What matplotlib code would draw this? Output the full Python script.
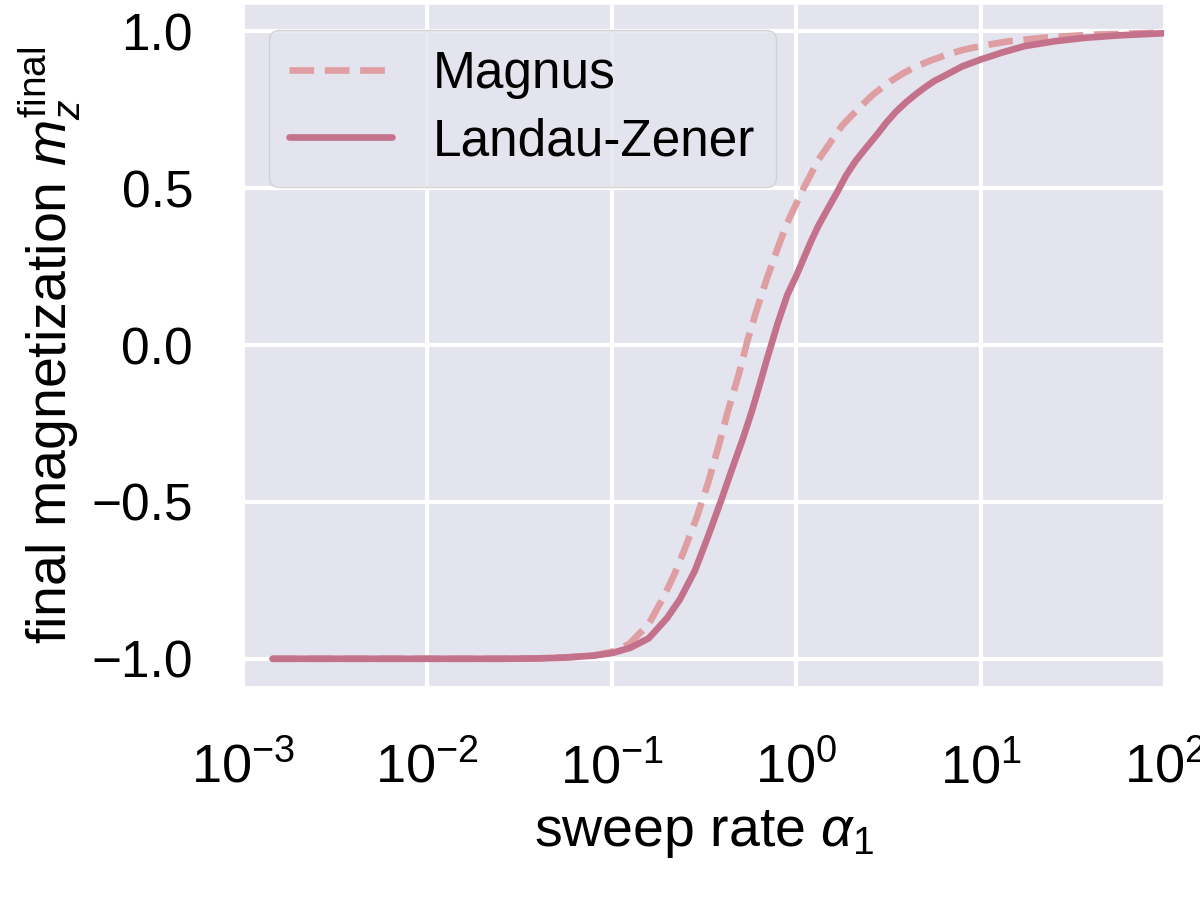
import matplotlib
matplotlib.use("Agg")
import matplotlib.pyplot as plt
import numpy as np
import seaborn as sns

# values (log10 of sweep rate, final m_z)
LZ_LOGA = [-2.84, -2.5, -2.0, -1.6, -1.4, -1.25, -1.1, -1.0, -0.9, -0.8, -0.7,
           -0.63, -0.55, -0.478, -0.41, -0.349, -0.29, -0.24, -0.2, -0.156,
           -0.1, -0.048, 0.0, 0.04, 0.08, 0.12, 0.167, 0.22, 0.27, 0.32,
           0.381, 0.44, 0.49, 0.54, 0.596, 0.65, 0.7, 0.75, 0.81, 0.9, 1.0,
           1.12, 1.24, 1.4, 1.56, 1.75, 2.0]
LZ_MZ = [-1.0, -1.0, -1.0, -1.0, -0.999, -0.996, -0.99, -0.982, -0.965, -0.935,
         -0.87, -0.81, -0.72, -0.61, -0.5, -0.397, -0.3, -0.21, -0.13, -0.04,
         0.07, 0.16, 0.22, 0.275, 0.33, 0.38, 0.43, 0.485, 0.54, 0.585,
         0.63, 0.672, 0.71, 0.743, 0.774, 0.8, 0.822, 0.842, 0.86, 0.888,
         0.91, 0.933, 0.953, 0.968, 0.979, 0.987, 0.994]

MAG_LOGA = [-2.84, -2.5, -2.0, -1.6, -1.4, -1.25, -1.1, -1.0, -0.908, -0.8,
            -0.714, -0.66, -0.607, -0.54, -0.478, -0.42, -0.37, -0.31, -0.263,
            -0.21, -0.156, -0.1, -0.048, 0.0, 0.04, 0.08, 0.12, 0.167, 0.21,
            0.25, 0.295, 0.338, 0.38, 0.42, 0.465, 0.51, 0.58, 0.65, 0.73,
            0.81, 0.9, 1.0, 1.15, 1.35, 1.6, 2.0]
MAG_MZ = [-1.0, -1.0, -1.0, -1.0, -0.999, -0.996, -0.99, -0.978, -0.954, -0.89,
          -0.797, -0.73, -0.654, -0.55, -0.44, -0.32, -0.21, -0.09, 0.017,
          0.12, 0.217, 0.31, 0.39, 0.45, 0.5, 0.545, 0.59, 0.63, 0.667,
          0.7, 0.728, 0.753, 0.778, 0.8, 0.82, 0.84, 0.866, 0.888, 0.907,
          0.924, 0.94, 0.953, 0.968, 0.98, 0.989, 0.996]

MAG_COLOR = "#df9ea2"
LZ_COLOR = "#c4728c"

sns.set_theme(style="darkgrid")
plt.rcParams["font.family"] = ["Liberation Sans", "DejaVu Sans"]
plt.rcParams["mathtext.fontset"] = "custom"
plt.rcParams["mathtext.rm"] = "Liberation Sans"
plt.rcParams["mathtext.it"] = "Liberation Sans:italic"
plt.rcParams["mathtext.bf"] = "Liberation Sans:bold"
plt.rcParams["text.color"] = "black"
plt.rcParams["axes.labelcolor"] = "black"
plt.rcParams["xtick.color"] = "black"
plt.rcParams["ytick.color"] = "black"

fig = plt.figure(figsize=(12, 8.98), dpi=100)
ax = fig.add_axes([243 / 1200, 211 / 898, 922 / 1200, 683 / 898])
ax.set_facecolor("#e4e4ee")

alpha_lz = 10.0 ** np.array(LZ_LOGA)
alpha_mag = 10.0 ** np.array(MAG_LOGA)
ax.plot(alpha_mag, MAG_MZ, color=MAG_COLOR, linestyle="--", linewidth=4.8,
        label="Magnus")
ax.plot(alpha_lz, LZ_MZ, color=LZ_COLOR, linestyle="-", linewidth=4.8,
        label="Landau-Zener", solid_capstyle="round")

ax.set_xscale("log")
ax.set_xlim(1e-3, 1e2)
ax.set_ylim(-1.09, 1.087)
ax.set_yticks([-1.0, -0.5, 0.0, 0.5, 1.0])
ax.grid(True, color="white", linewidth=3)
ax.tick_params(axis="y", labelsize=37, pad=36, length=0)
ax.tick_params(axis="x", labelsize=39, pad=40, length=0)
ax.set_xlabel(r"sweep rate $\alpha_1$", fontsize=40, labelpad=10)
ax.set_ylabel(r"final magnetization $m_z^{\mathrm{final}}$", fontsize=40,
              labelpad=6)

leg = ax.legend(loc="upper left", fontsize=37, handlelength=2.0,
                frameon=True, borderaxespad=0.5, labelspacing=0.35)
leg.get_frame().set_edgecolor("#cccccc")
leg.get_frame().set_facecolor("#e4e4ee")

fig.savefig("out.png", dpi=100)
